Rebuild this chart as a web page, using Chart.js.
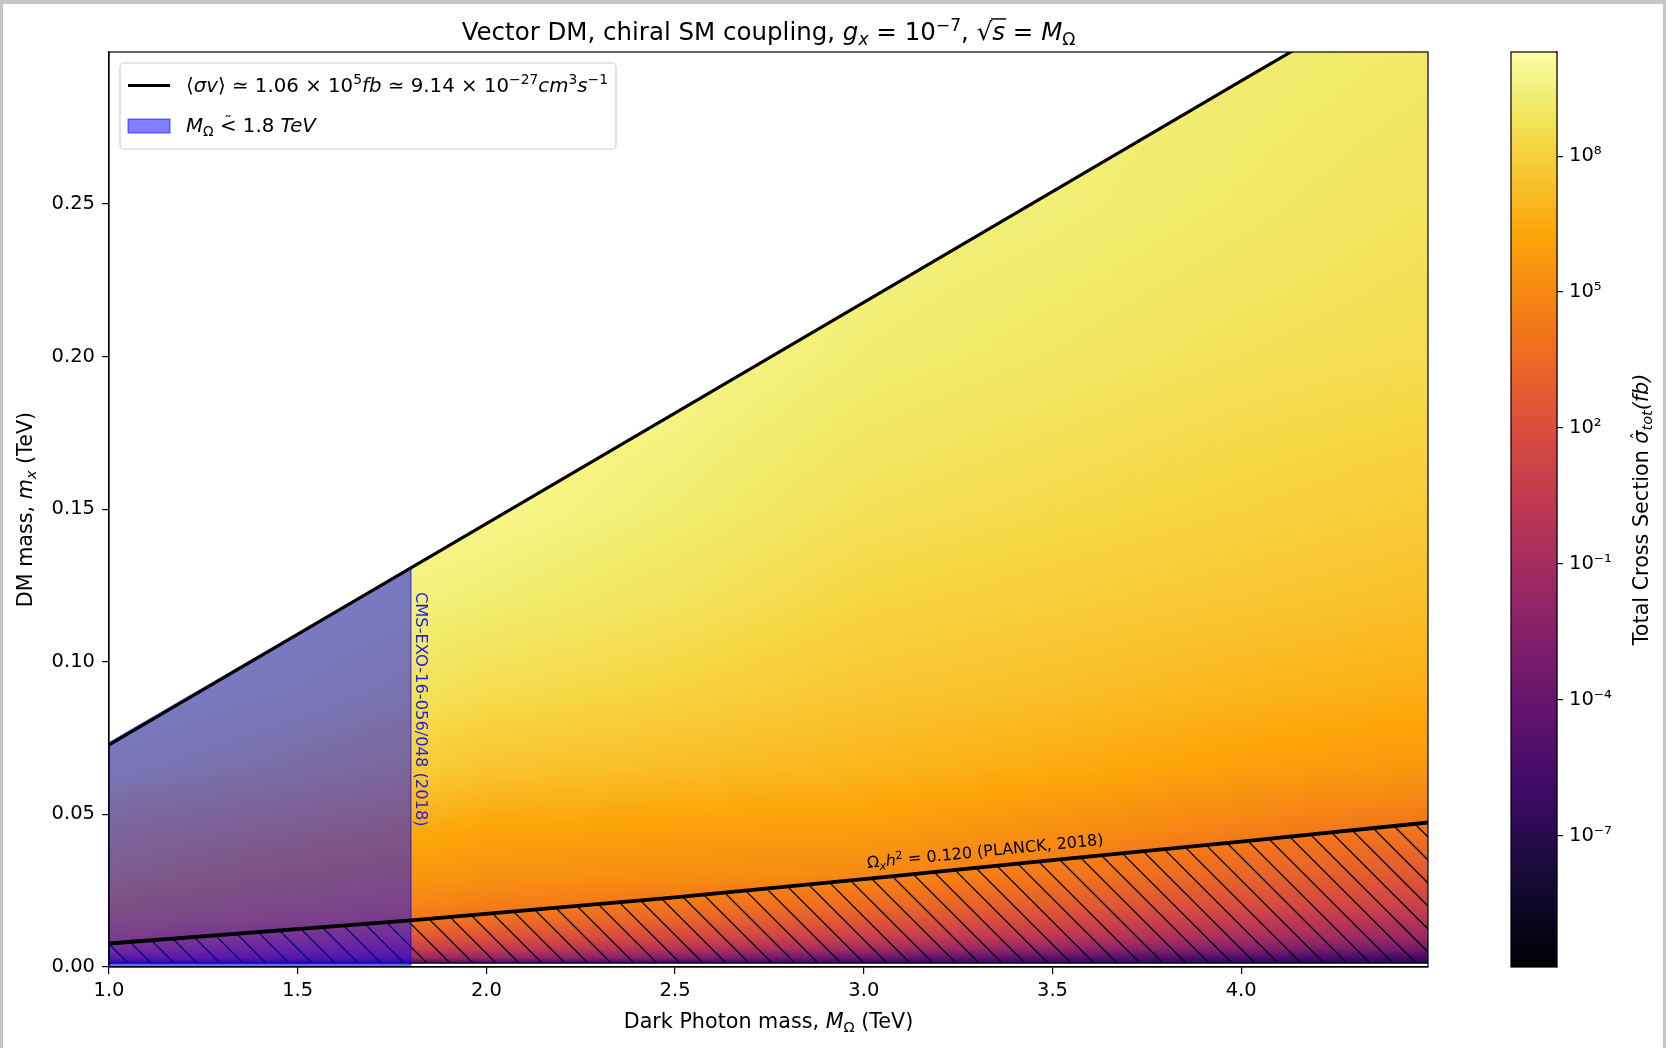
<!DOCTYPE html>
<html>
<head>
<meta charset="utf-8">
<script src="https://cdn.jsdelivr.net/npm/chart.js@4.4.1/dist/chart.umd.min.js"></script>
<style>
  html, body { margin: 0; padding: 0; background: #c6c6c6; }
  #wrap { position: relative; width: 1666px; height: 1048px; }
  #main, #cbar { position: absolute; top: 0; }
  #main { left: 0; }
  #cbar { left: 1480px; }
</style>
</head>
<body>
<div id="wrap">
  <canvas id="main" width="1666" height="1048"></canvas>
  <canvas id="cbar" width="186" height="1048"></canvas>
</div>
<script>
/* ═══════════════════════════════════════════════════════════════
   Vector DM, chiral SM coupling — cross-section map
═══════════════════════════════════════════════════════════════ */

// ── Data ──────────────────────────────────────────────────────
const xTicks = [1.0, 1.5, 2.0, 2.5, 3.0, 3.5, 4.0];
const yTicks = [0.00, 0.05, 0.10, 0.15, 0.20, 0.25];
const cbTicks = [1e-7, 1e-4, 1e-1, 1e2, 1e5, 1e8];

// <σv> = 1.06e5 fb contour
const annX = [1.0, 2.0, 3.0, 4.0, 4.5];
const annY = [0.0728, 0.1453, 0.2178, 0.2903, 0.3265];

// relic density Ωh² = 0.120 line
const relicX = [1.0, 1.8, 2.5, 3.0, 3.5, 4.0, 4.5];
const relicY = [0.0077, 0.0153, 0.0228, 0.0288, 0.0350, 0.0411, 0.0474];
const relicFloor = 0.0013;

// CMS exclusion box M_Ω < 1.8 TeV
const cmsX = [1.0, 1.8];
const cmsTop = [0.0735, 0.1308];
const cmsFloor = 0.0006;

// log10(σ_tot / fb) map: rows = m_x, columns = M_Ω
const gridM = [1.0, 1.5, 2.0, 2.5, 3.0, 3.5, 4.0, 4.5];
const gridMx = [0.0013, 0.003, 0.006, 0.01, 0.015, 0.02, 0.03, 0.045, 0.065, 0.09, 0.12, 0.15, 0.2, 0.25, 0.3];
const logSigma = [
  [-4.5, -5.0, -5.5, -6.0, -6.3, -6.6, -6.8, -7.0],
  [ 0.0, -1.0, -1.8, -2.8, -4.0, -4.7, -5.3, -5.8],
  [ 2.9,  1.5,  0.6, -0.2, -1.0, -1.9, -2.6, -3.2],
  [ 4.5,  3.3,  2.3,  1.7,  1.0,  0.2, -0.7, -1.5],
  [ 5.4,  4.5,  3.7,  3.1,  2.5,  1.6,  0.6, -0.3],
  [ 6.0,  5.2,  4.5,  4.1,  3.6,  2.8,  1.9,  1.0],
  [ 7.0,  6.0,  5.4,  5.2,  5.0,  4.2,  3.3,  2.5],
  [ 7.8,  7.0,  6.2,  6.0,  5.9,  5.3,  4.6,  4.0],
  [ 9.2,  8.4,  7.5,  7.2,  6.9,  6.5,  6.0,  5.6],
  [ 9.9,  9.3,  8.5,  8.1,  7.6,  7.3,  6.9,  6.6],
  [ 9.9,  9.8,  9.3,  8.8,  8.2,  7.9,  7.6,  7.3],
  [ 9.9,  9.9,  9.8,  9.3,  8.7,  8.4,  8.1,  7.8],
  [ 9.9,  9.9, 10.0,  9.8,  9.3,  9.0,  8.7,  8.5],
  [ 9.9,  9.9, 10.0,  9.9,  9.6,  9.4,  9.1,  8.8],
  [ 9.9,  9.9, 10.0,  9.9,  9.6,  9.5,  9.3,  9.1]
];
const cbLogMin = -9.9;
const cbLogMax = 10.3;

// ── Style helpers ─────────────────────────────────────────────
const FONT = '"DejaVu Sans", "Noto Sans", sans-serif';
const TICK = 19.5;
const LABEL = 20.7;
const LEGEND = 19.8;

const infernoStops = [
  [0.00, 0, 0, 4], [0.10, 22, 11, 57], [0.20, 66, 10, 104], [0.30, 106, 23, 110],
  [0.40, 147, 38, 103], [0.50, 188, 55, 84], [0.60, 221, 81, 58], [0.70, 243, 120, 25],
  [0.80, 252, 165, 10], [0.90, 246, 215, 70], [0.95, 241, 237, 113], [1.00, 252, 255, 164]
];

function inferno(t) {
  t = Math.max(0, Math.min(1, t));
  for (let k = 0; k < infernoStops.length - 1; k++) {
    const a = infernoStops[k], b = infernoStops[k + 1];
    if (t <= b[0]) {
      const f = (t - a[0]) / (b[0] - a[0]);
      return [a[1] + (b[1] - a[1]) * f, a[2] + (b[2] - a[2]) * f, a[3] + (b[3] - a[3]) * f];
    }
  }
  const l = infernoStops[infernoStops.length - 1];
  return [l[1], l[2], l[3]];
}
const colorFor = v => inferno((v - cbLogMin) / (cbLogMax - cbLogMin));

function locate(arr, v) {
  if (v <= arr[0]) return [0, 0];
  for (let k = 0; k < arr.length - 1; k++) {
    if (v <= arr[k + 1]) return [k, (v - arr[k]) / (arr[k + 1] - arr[k])];
  }
  return [arr.length - 2, 1];
}

// rich (mathtext-like) text: {t, i: italic, s: 'sub'|'sup', d: 'over'|'tilde'|'hat'}
function segFont(seg, size) {
  const sz = seg.s ? size * 0.7 : size;
  return `${seg.i ? 'italic ' : ''}${sz}px ${FONT}`;
}
function richWidth(ctx, segs, size) {
  let w = 0;
  segs.forEach(seg => { ctx.font = segFont(seg, size); w += ctx.measureText(seg.t).width; });
  return w;
}
function drawRich(ctx, segs, x, y, size, align = 'left') {
  const w = richWidth(ctx, segs, size);
  let cx = align === 'center' ? x - w / 2 : align === 'right' ? x - w : x;
  ctx.textAlign = 'left';
  ctx.textBaseline = 'alphabetic';
  segs.forEach(seg => {
    ctx.font = segFont(seg, size);
    const dy = seg.s === 'sub' ? size * 0.2 : seg.s === 'sup' ? -size * 0.38 : 0;
    const sw = ctx.measureText(seg.t).width;
    ctx.fillText(seg.t, cx, y + dy);
    if (seg.d === 'over') {
      ctx.save();
      ctx.strokeStyle = ctx.fillStyle;
      ctx.lineWidth = size * 0.06;
      ctx.beginPath();
      ctx.moveTo(cx - size * 0.05, y - size * 0.86);
      ctx.lineTo(cx + sw + size * 0.05, y - size * 0.86);
      ctx.stroke();
      ctx.restore();
    } else if (seg.d === 'tilde' || seg.d === 'hat') {
      ctx.save();
      ctx.font = `${size * 0.75}px ${FONT}`;
      ctx.textAlign = 'center';
      const ch = seg.d === 'tilde' ? '˜' : 'ˆ';
      ctx.fillText(ch, cx + sw / 2 + (seg.d === 'hat' ? size * 0.06 : 0), y - size * (seg.d === 'tilde' ? 0.32 : 0.22));
      ctx.restore();
    }
    cx += sw;
  });
}

// ── Texts ─────────────────────────────────────────────────────
const titleSegs = [
  { t: 'Vector DM, chiral SM coupling, ' },
  { t: 'g', i: 1 }, { t: 'x', i: 1, s: 'sub' },
  { t: ' = 10' }, { t: '−7', s: 'sup' }, { t: ', ' },
  { t: '√' }, { t: 's', i: 1, d: 'over' },
  { t: ' = ' }, { t: 'M', i: 1 }, { t: 'Ω', s: 'sub' }
];
const xLabelSegs = [{ t: 'Dark Photon mass, ' }, { t: 'M', i: 1 }, { t: 'Ω', s: 'sub' }, { t: ' (TeV)' }];
const yLabelSegs = [{ t: 'DM mass, ' }, { t: 'm', i: 1 }, { t: 'x', i: 1, s: 'sub' }, { t: ' (TeV)' }];
const cbLabelSegs = [
  { t: 'Total Cross Section ' }, { t: 'σ', i: 1, d: 'hat' }, { t: 'tot', i: 1, s: 'sub' }, { t: '(fb)', i: 1 }
];
const legendSegs1 = [
  { t: '⟨' }, { t: 'σv', i: 1 }, { t: '⟩ ≃ 1.06 × 10' }, { t: '5', s: 'sup' }, { t: 'fb', i: 1 },
  { t: ' ≃ 9.14 × 10' }, { t: '−27', s: 'sup' }, { t: 'cm', i: 1 }, { t: '3', s: 'sup' },
  { t: 's', i: 1 }, { t: '−1', s: 'sup' }
];
const legendSegs2 = [{ t: 'M', i: 1 }, { t: 'Ω', s: 'sub' }, { t: ' ' }, { t: '<', d: 'tilde' }, { t: ' 1.8 ' }, { t: 'TeV', i: 1 }];
const planckSegs = [
  { t: 'Ω' }, { t: 'x', i: 1, s: 'sub' }, { t: 'h', i: 1 }, { t: '2', s: 'sup' }, { t: ' = 0.120 (PLANCK, 2018)' }
];
const cmsText = 'CMS-EXO-16-056/048 (2018)';
const planckAt = [3.01, 0.0324];
const cmsTextTop = 0.1229;

// ── Layers drawn under the lines ──────────────────────────────
let heatCache = null;

function drawHeatmap(chart) {
  const { ctx, chartArea: a, scales: { x, y } } = chart;
  const w = Math.round(a.right - a.left), h = Math.round(a.bottom - a.top);
  if (!heatCache || heatCache.width !== w || heatCache.height !== h) {
    heatCache = document.createElement('canvas');
    heatCache.width = w; heatCache.height = h;
    const octx = heatCache.getContext('2d');
    const img = octx.createImageData(w, h);
    const cols = [];
    for (let i = 0; i < w; i++) cols.push(locate(gridM, x.getValueForPixel(a.left + i + 0.5)));
    for (let j = 0; j < h; j++) {
      const my = y.getValueForPixel(a.top + j + 0.5);
      if (my < gridMx[0]) continue;
      const [r, fy] = locate(gridMx, my);
      const lo = logSigma[r], hi = logSigma[r + 1];
      for (let i = 0; i < w; i++) {
        const [c, fx] = cols[i];
        const v = (lo[c] * (1 - fx) + lo[c + 1] * fx) * (1 - fy) + (hi[c] * (1 - fx) + hi[c + 1] * fx) * fy;
        const col = colorFor(v);
        const k = (j * w + i) * 4;
        img.data[k] = col[0]; img.data[k + 1] = col[1]; img.data[k + 2] = col[2]; img.data[k + 3] = 255;
      }
    }
    octx.putImageData(img, 0, 0);
  }
  ctx.save();
  ctx.beginPath();
  ctx.rect(a.left, a.top, a.right - a.left, a.bottom - a.top);
  ctx.clip();
  ctx.beginPath();
  ctx.moveTo(x.getPixelForValue(annX[0]), y.getPixelForValue(annY[0]));
  annX.forEach((v, k) => ctx.lineTo(x.getPixelForValue(v), y.getPixelForValue(annY[k])));
  ctx.lineTo(x.getPixelForValue(annX[annX.length - 1]), y.getPixelForValue(0));
  ctx.lineTo(x.getPixelForValue(annX[0]), y.getPixelForValue(0));
  ctx.closePath();
  ctx.clip();
  ctx.drawImage(heatCache, a.left, a.top);
  ctx.restore();
}

function relicPath(chart) {
  const { ctx, scales: { x, y } } = chart;
  ctx.beginPath();
  relicX.forEach((v, k) => {
    const px = x.getPixelForValue(v), py = y.getPixelForValue(relicY[k]);
    k ? ctx.lineTo(px, py) : ctx.moveTo(px, py);
  });
  ctx.lineTo(x.getPixelForValue(relicX[relicX.length - 1]), y.getPixelForValue(relicFloor));
  ctx.lineTo(x.getPixelForValue(relicX[0]), y.getPixelForValue(relicFloor));
  ctx.closePath();
}

function drawHatch(chart) {
  const { ctx, chartArea: a } = chart;
  ctx.save();
  ctx.beginPath();
  ctx.rect(a.left, a.top, a.right - a.left, a.bottom - a.top);
  ctx.clip();
  relicPath(chart);
  ctx.clip();
  ctx.strokeStyle = '#000';
  ctx.lineWidth = 1.3;
  ctx.beginPath();
  const H = a.bottom - a.top, step = 23;
  for (let s = -H; s < a.right - a.left + H; s += step) {
    ctx.moveTo(a.left + s, a.top);
    ctx.lineTo(a.left + s + H, a.bottom);
  }
  ctx.stroke();
  ctx.restore();
  ctx.save();
  ctx.beginPath();
  ctx.rect(a.left, a.top, a.right - a.left, a.bottom - a.top);
  ctx.clip();
  relicPath(chart);
  ctx.strokeStyle = '#000';
  ctx.lineWidth = 1.3;
  ctx.stroke();
  ctx.restore();
}

function drawCms(chart) {
  const { ctx, scales: { x, y } } = chart;
  const x0 = x.getPixelForValue(cmsX[0]), x1 = x.getPixelForValue(cmsX[1]);
  ctx.save();
  ctx.beginPath();
  ctx.moveTo(x0, y.getPixelForValue(cmsFloor));
  ctx.lineTo(x0, y.getPixelForValue(cmsTop[0]));
  ctx.lineTo(x1, y.getPixelForValue(cmsTop[1]));
  ctx.lineTo(x1, y.getPixelForValue(cmsFloor));
  ctx.closePath();
  ctx.fillStyle = 'rgba(0,0,255,0.5)';
  ctx.fill();
  ctx.strokeStyle = 'rgba(0,0,255,0.5)';
  ctx.lineWidth = 1.5;
  ctx.stroke();
  ctx.restore();
}

// ── Texts and frame on top ────────────────────────────────────
function drawAnnotations(chart) {
  const { ctx, chartArea: a, scales: { x, y } } = chart;

  ctx.save();
  ctx.strokeStyle = '#000';
  ctx.lineWidth = 1.2;
  ctx.strokeRect(a.left, a.top, a.right - a.left, a.bottom - a.top);
  ctx.restore();

  // CMS label
  ctx.save();
  ctx.translate(x.getPixelForValue(cmsX[1]) + 9, y.getPixelForValue(cmsTextTop));
  ctx.rotate(Math.PI / 2);
  ctx.fillStyle = '#1f1fe6';
  ctx.font = `16.3px ${FONT}`;
  ctx.textAlign = 'left';
  ctx.textBaseline = 'middle';
  ctx.fillText(cmsText, 0, 0);
  ctx.restore();

  // Planck label along the relic line
  const ang = Math.atan2(y.getPixelForValue(relicY[5]) - y.getPixelForValue(relicY[3]),
                         x.getPixelForValue(relicX[5]) - x.getPixelForValue(relicX[3]));
  ctx.save();
  ctx.translate(x.getPixelForValue(planckAt[0]), y.getPixelForValue(planckAt[1]));
  ctx.rotate(ang);
  ctx.fillStyle = '#000';
  drawRich(ctx, planckSegs, 0, 0, 16);
  ctx.restore();

  // legend
  ctx.save();
  ctx.fillStyle = 'rgba(255,255,255,0.8)';
  ctx.strokeStyle = '#d0d0d0';
  ctx.lineWidth = 1.2;
  ctx.beginPath();
  ctx.roundRect(120, 63, 496, 86, 4);
  ctx.fill();
  ctx.stroke();
  ctx.strokeStyle = '#000';
  ctx.lineWidth = 3.2;
  ctx.beginPath();
  ctx.moveTo(128, 85.5);
  ctx.lineTo(170, 85.5);
  ctx.stroke();
  ctx.fillStyle = 'rgba(0,0,255,0.5)';
  ctx.fillRect(128, 119, 42, 14);
  ctx.strokeStyle = 'rgba(0,0,255,0.5)';
  ctx.lineWidth = 1.2;
  ctx.strokeRect(128, 119, 42, 14);
  ctx.fillStyle = '#000';
  drawRich(ctx, legendSegs1, 186, 92, LEGEND);
  drawRich(ctx, legendSegs2, 186, 132, LEGEND);
  ctx.restore();
}

function drawTitles(chart) {
  const { ctx, chartArea: a } = chart;
  ctx.save();
  ctx.fillStyle = '#000';
  drawRich(ctx, titleSegs, (a.left + a.right) / 2, 40, 24.5, 'center');
  drawRich(ctx, xLabelSegs, (a.left + a.right) / 2, 1028, LABEL, 'center');
  ctx.translate(32, (a.top + a.bottom) / 2);
  ctx.rotate(-Math.PI / 2);
  drawRich(ctx, yLabelSegs, 0, 0, LABEL, 'center');
  ctx.restore();
}

const layersPlugin = {
  id: 'layers',
  beforeDraw(chart) {
    const { ctx } = chart;
    ctx.save();
    ctx.fillStyle = '#c6c6c6';
    ctx.fillRect(0, 0, chart.width, chart.height);
    ctx.fillStyle = '#fff';
    ctx.fillRect(3, 4, chart.width - 6, chart.height - 4);
    ctx.restore();
  },
  beforeDatasetsDraw(chart) {
    drawHeatmap(chart);
    drawHatch(chart);
    drawCms(chart);
  },
  afterDatasetsDraw(chart) {
    drawAnnotations(chart);
  },
  afterDraw(chart) {
    drawTitles(chart);
  }
};

// ── Main chart ────────────────────────────────────────────────
const axisCommon = {
  ticks: { font: { family: FONT, size: TICK }, color: '#000', autoSkip: false, maxRotation: 0 },
  grid: { drawOnChartArea: false, drawTicks: true, tickLength: 7, color: '#000', lineWidth: 1.2 },
  border: { display: true, color: '#000', width: 1.2 }
};

new Chart(document.getElementById('main'), {
  type: 'scatter',
  data: {
    datasets: [
      {
        label: 'ann',
        data: annX.map((v, k) => ({ x: v, y: annY[k] })),
        showLine: true, borderColor: '#000', borderWidth: 3.2, pointRadius: 0
      },
      {
        label: 'relic',
        data: relicX.map((v, k) => ({ x: v, y: relicY[k] })),
        showLine: true, borderColor: '#000', borderWidth: 3.8, pointRadius: 0
      }
    ]
  },
  options: {
    responsive: false,
    animation: false,
    devicePixelRatio: 1,
    layout: { padding: { left: 0, top: 52, right: 238, bottom: 0 } },
    plugins: { legend: { display: false }, tooltip: { enabled: false } },
    scales: {
      x: {
        type: 'linear', min: 1.0, max: 4.495,
        afterBuildTicks: s => { s.ticks = xTicks.map(v => ({ value: v })); },
        afterFit: s => { s.height = 81; },
        ticks: { ...axisCommon.ticks, padding: 5, callback: v => v.toFixed(1) },
        grid: axisCommon.grid, border: axisCommon.border
      },
      y: {
        type: 'linear', min: 0, max: 0.2998,
        afterBuildTicks: s => { s.ticks = yTicks.map(v => ({ value: v })); },
        afterFit: s => { s.width = 109; },
        ticks: { ...axisCommon.ticks, padding: 7, callback: v => v.toFixed(2) },
        grid: axisCommon.grid, border: axisCommon.border
      }
    }
  },
  plugins: [layersPlugin]
});

// ── Colorbar ──────────────────────────────────────────────────
const SUP = { '0': '⁰', '1': '¹', '2': '²', '3': '³', '4': '⁴', '5': '⁵', '6': '⁶', '7': '⁷', '8': '⁸', '9': '⁹', '-': '⁻' };
const pow10 = v => '10' + String(Math.round(Math.log10(v))).split('').map(c => SUP[c]).join('');

const cbarPlugin = {
  id: 'cbar',
  beforeDatasetsDraw(chart) {
    const { ctx, chartArea: a, scales: { y } } = chart;
    ctx.save();
    for (let py = Math.floor(a.top); py < Math.ceil(a.bottom); py++) {
      const c = colorFor(Math.log10(y.getValueForPixel(py + 0.5)));
      ctx.fillStyle = `rgb(${c[0] | 0},${c[1] | 0},${c[2] | 0})`;
      ctx.fillRect(a.left, py, a.right - a.left, 1);
    }
    ctx.strokeStyle = '#000';
    ctx.lineWidth = 1.2;
    ctx.strokeRect(a.left, a.top, a.right - a.left, a.bottom - a.top);
    ctx.restore();
  },
  afterDraw(chart) {
    const { ctx, chartArea: a } = chart;
    ctx.save();
    ctx.fillStyle = '#000';
    ctx.translate(168, (a.top + a.bottom) / 2);
    ctx.rotate(-Math.PI / 2);
    drawRich(ctx, cbLabelSegs, 0, 0, LABEL, 'center');
    ctx.restore();
  }
};

new Chart(document.getElementById('cbar'), {
  type: 'scatter',
  data: { datasets: [] },
  options: {
    responsive: false,
    animation: false,
    devicePixelRatio: 1,
    layout: { padding: { left: 31, top: 52, right: 0, bottom: 81 } },
    plugins: { legend: { display: false }, tooltip: { enabled: false } },
    scales: {
      x: { display: false },
      y: {
        type: 'logarithmic', position: 'right',
        min: Math.pow(10, cbLogMin), max: Math.pow(10, cbLogMax),
        afterBuildTicks: s => { s.ticks = cbTicks.map(v => ({ value: v })); },
        afterFit: s => { s.width = 109; },
        ticks: { font: { family: FONT, size: TICK }, color: '#000', padding: 6, autoSkip: false, callback: v => pow10(v) },
        grid: { drawOnChartArea: false, drawTicks: true, tickLength: 6, color: '#000', lineWidth: 1.2 },
        border: { display: true, color: '#000', width: 1.2 }
      }
    }
  },
  plugins: [cbarPlugin]
});
</script>
</body>
</html>
